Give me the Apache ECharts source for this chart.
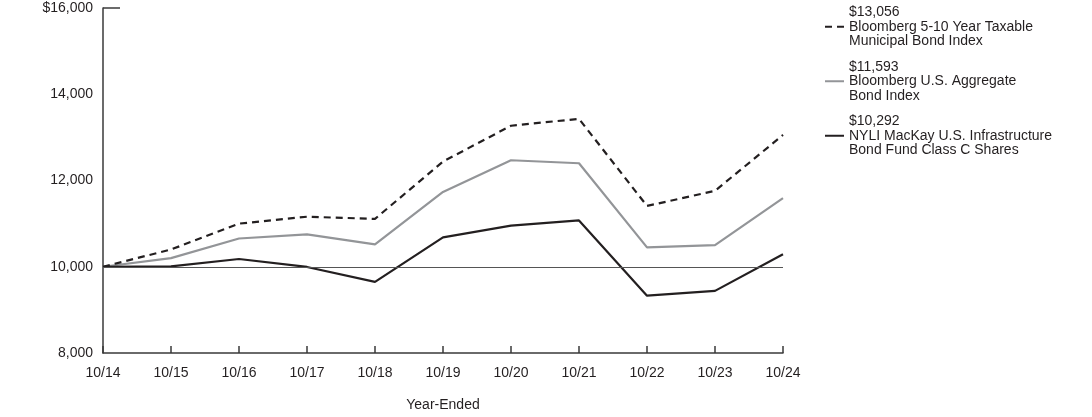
<!DOCTYPE html>
<html><head><meta charset="utf-8">
<script src="https://cdn.jsdelivr.net/npm/echarts@6/dist/echarts.min.js"></script>
<style>html,body{margin:0;padding:0;background:#fff;overflow:hidden}#c{width:1092px;height:417px}</style>
</head><body><div id="c"></div>
<script>
const categories = ['10/14','10/15','10/16','10/17','10/18','10/19','10/20','10/21','10/22','10/23','10/24'];
const muniValues = [10000,10400,11000,11160,11110,12440,13270,13430,11410,11760,13056];
const aggValues  = [10000,10200,10655,10750,10520,11735,12470,12400,10450,10500,11593];
const fundValues = [10000,10010,10180,9995,9650,10680,10955,11075,9330,9440,10292];
const seriesNames = [
  '$13,056\nBloomberg 5-10 Year Taxable\nMunicipal Bond Index',
  '$11,593\nBloomberg U.S. Aggregate\nBond Index',
  '$10,292\nNYLI MacKay U.S. Infrastructure\nBond Fund Class C Shares'
];
const yTicks = {min: 8000, max: 16000, interval: 2000};
const FONT = 'Liberation Sans, Arial, sans-serif';
const TXT = '#231f20';
const chart = echarts.init(document.getElementById('c'), null, {renderer: 'canvas'});
const fmt = v => (v === yTicks.max ? '$' : '') + v.toLocaleString('en-US');
chart.setOption({
  animation: false,
  grid: {left: 103, right: 309, top: 8, bottom: 60, containLabel: false},
  legend: {
    orient: 'vertical', left: 824, top: 5, itemWidth: 19, itemHeight: 10, itemGap: 11,
    padding: 0,
    itemStyle: {opacity: 0},
    textStyle: {fontFamily: FONT, fontSize: 14, color: TXT, lineHeight: 14.5, padding: [0, 0, 0, 0]},
    data: seriesNames.map(n => ({name: n}))
  },
  xAxis: {
    type: 'category', data: categories, boundaryGap: false,
    name: 'Year-Ended', nameLocation: 'middle', nameGap: 45,
    nameTextStyle: {fontFamily: FONT, fontSize: 14, color: TXT},
    axisLine: {lineStyle: {color: '#3a3a3a', width: 1.5}},
    axisTick: {inside: true, length: 7, lineStyle: {color: '#3a3a3a', width: 1.5}},
    axisLabel: {fontFamily: FONT, fontSize: 14, color: TXT, margin: 13},
    splitLine: {show: false}
  },
  yAxis: {
    type: 'value', min: yTicks.min, max: yTicks.max, interval: yTicks.interval,
    axisLine: {show: true, lineStyle: {color: '#3a3a3a', width: 1.5}},
    axisTick: {show: false},
    axisLabel: {fontFamily: FONT, fontSize: 14, color: TXT, margin: 10, formatter: fmt},
    splitLine: {show: false}
  },
  series: [
    {name: seriesNames[0], type: 'line', data: muniValues, symbol: 'none', z: 3,
     lineStyle: {color: TXT, width: 2.2, type: [7, 5]}, itemStyle: {color: TXT}},
    {name: seriesNames[1], type: 'line', data: aggValues, symbol: 'none', z: 2,
     lineStyle: {color: '#939598', width: 2.2}, itemStyle: {color: '#939598'}},
    {name: seriesNames[2], type: 'line', data: fundValues, symbol: 'none', z: 4,
     lineStyle: {color: TXT, width: 2.2}, itemStyle: {color: TXT},
     markLine: {silent: true, symbol: 'none', label: {show: false},
       lineStyle: {color: '#555', width: 1.2, type: 'solid'},
       data: [{yAxis: 10000}]}}
  ]
});
const p0 = chart.convertToPixel({xAxisIndex: 0, yAxisIndex: 0}, [0, yTicks.max]);
chart.setOption({graphic: [{type: 'line', shape: {x1: p0[0], y1: p0[1], x2: p0[0] + 17, y2: p0[1]},
  style: {stroke: '#3a3a3a', lineWidth: 1.5}}]});
</script></body></html>
